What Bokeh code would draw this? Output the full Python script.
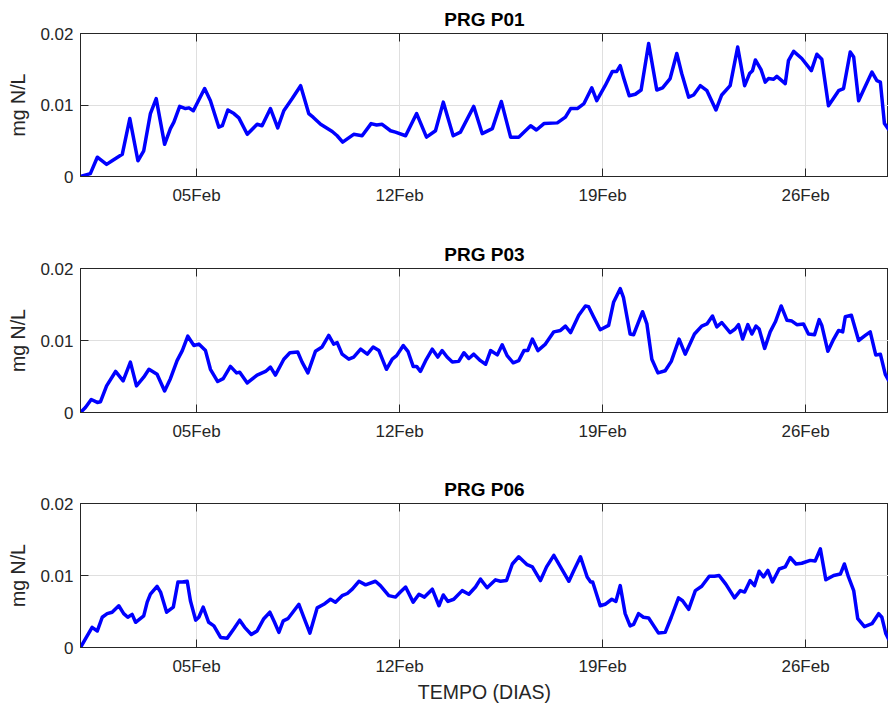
import pandas as pd
from bokeh.plotting import figure
from bokeh.models import FixedTicker, Range1d, LinearAxis
from bokeh.layouts import column
from bokeh.embed import file_html
from bokeh.resources import INLINE

# ---------------- data ----------------
START_DATE = "2019-02-01"
END_DAYS = 27.86  # visible span in days from START_DATE

titles = ["PRG P01", "PRG P03", "PRG P06"]
y_label = "mg N/L"
x_label = "TEMPO (DIAS)"

tick_dates = ["2019-02-05", "2019-02-12", "2019-02-19", "2019-02-26"]
y_ticks = [0, 0.01, 0.02]
y_tick_labels = ["0", "0.01", "0.02"]

days_p01 = [0.00, 0.34, 0.58, 0.90, 1.09, 1.44, 1.70, 1.98, 2.18, 2.41, 2.61, 2.90, 3.10, 3.22, 3.42,
            3.62, 3.74, 3.89, 4.28, 4.48, 4.77, 4.89, 5.08, 5.29, 5.46, 5.75, 6.09, 6.26, 6.55, 6.80,
            7.01, 7.30, 7.59, 7.87, 8.02, 8.28, 8.68, 8.85, 9.04, 9.42, 9.71, 10.02, 10.21, 10.40,
            10.69, 10.86, 11.21, 11.59, 11.93, 12.24, 12.51, 12.85, 13.10, 13.56, 13.85, 14.20, 14.51,
            14.83, 15.11, 15.52, 15.72, 15.98, 16.44, 16.72, 16.90, 17.13, 17.36, 17.63, 17.80, 18.09,
            18.34, 18.49, 18.61, 18.72, 18.92, 19.13, 19.33, 19.59, 19.87, 20.07, 20.33, 20.56, 20.73,
            20.97, 21.14, 21.37, 21.60, 21.91, 22.11, 22.40, 22.66, 22.90, 23.07, 23.17, 23.27, 23.47,
            23.61, 23.72, 23.90, 24.01, 24.30, 24.41, 24.59, 24.87, 25.20, 25.39, 25.56, 25.79, 26.14,
            26.31, 26.54, 26.66, 26.83, 27.00, 27.29, 27.46, 27.58, 27.72, 27.86]
vals_p01 = [0.0000, 0.0004, 0.0027, 0.0017, 0.0022, 0.0031, 0.0081, 0.0022, 0.0036, 0.0088, 0.0109,
            0.0045, 0.0067, 0.0076, 0.0098, 0.0095, 0.0096, 0.0092, 0.0123, 0.0106, 0.0069, 0.0071,
            0.0093, 0.0088, 0.0082, 0.0059, 0.0073, 0.0071, 0.0095, 0.0068, 0.0092, 0.0109, 0.0127,
            0.0088, 0.0083, 0.0073, 0.0063, 0.0057, 0.0048, 0.0059, 0.0057, 0.0074, 0.0072, 0.0073,
            0.0064, 0.0062, 0.0057, 0.0088, 0.0055, 0.0064, 0.0104, 0.0057, 0.0062, 0.0098, 0.0060,
            0.0067, 0.0105, 0.0055, 0.0055, 0.0071, 0.0065, 0.0074, 0.0075, 0.0083, 0.0095, 0.0095,
            0.0102, 0.0124, 0.0106, 0.0127, 0.0147, 0.0147, 0.0155, 0.0139, 0.0113, 0.0115, 0.0121,
            0.0186, 0.0121, 0.0124, 0.0137, 0.0172, 0.0144, 0.0111, 0.0114, 0.0127, 0.0120, 0.0093,
            0.0114, 0.0127, 0.0181, 0.0127, 0.0144, 0.0148, 0.0163, 0.0149, 0.0132, 0.0137, 0.0136,
            0.0140, 0.0130, 0.0162, 0.0175, 0.0165, 0.0148, 0.0171, 0.0164, 0.0099, 0.0120, 0.0123,
            0.0174, 0.0167, 0.0106, 0.0121, 0.0146, 0.0134, 0.0132, 0.0074, 0.0066]

days_p03 = [0.00, 0.17, 0.37, 0.58, 0.69, 0.90, 1.21, 1.47, 1.72, 1.93, 2.18, 2.36, 2.64, 2.90, 3.10,
            3.33, 3.51, 3.70, 3.91, 4.08, 4.31, 4.48, 4.73, 4.92, 5.17, 5.38, 5.49, 5.75, 6.09, 6.38,
            6.55, 6.72, 7.01, 7.22, 7.49, 7.64, 7.84, 8.10, 8.33, 8.56, 8.73, 8.85, 9.02, 9.25, 9.42,
            9.66, 9.89, 10.09, 10.29, 10.55, 10.75, 10.90, 11.13, 11.29, 11.47, 11.59, 11.72, 11.90,
            12.13, 12.32, 12.47, 12.64, 12.82, 13.04, 13.22, 13.39, 13.56, 13.79, 13.97, 14.14, 14.37,
            14.54, 14.71, 14.92, 15.11, 15.29, 15.42, 15.58, 15.77, 16.03, 16.32, 16.55, 16.72, 16.90,
            17.18, 17.41, 17.52, 17.69, 17.92, 18.21, 18.38, 18.61, 18.72, 18.95, 19.07, 19.38, 19.53,
            19.70, 19.91, 20.16, 20.37, 20.64, 20.85, 21.17, 21.42, 21.60, 21.79, 21.94, 22.11, 22.40,
            22.57, 22.69, 22.83, 23.01, 23.15, 23.29, 23.40, 23.59, 23.78, 23.96, 24.16, 24.36, 24.53,
            24.70, 24.93, 25.10, 25.31, 25.47, 25.56, 25.77, 25.97, 26.14, 26.28, 26.37, 26.58, 26.83,
            27.06, 27.23, 27.42, 27.58, 27.75, 27.86]
vals_p03 = [0.0000, 0.0007, 0.0018, 0.0014, 0.0015, 0.0037, 0.0057, 0.0044, 0.0070, 0.0037, 0.0049,
            0.0060, 0.0053, 0.0030, 0.0047, 0.0072, 0.0086, 0.0106, 0.0093, 0.0095, 0.0086, 0.0060,
            0.0043, 0.0047, 0.0064, 0.0055, 0.0056, 0.0041, 0.0052, 0.0057, 0.0063, 0.0052, 0.0074,
            0.0083, 0.0084, 0.0070, 0.0055, 0.0085, 0.0091, 0.0107, 0.0095, 0.0097, 0.0081, 0.0074,
            0.0077, 0.0088, 0.0081, 0.0091, 0.0086, 0.0060, 0.0074, 0.0079, 0.0093, 0.0085, 0.0064,
            0.0064, 0.0057, 0.0072, 0.0088, 0.0077, 0.0086, 0.0077, 0.0070, 0.0071, 0.0083, 0.0075,
            0.0081, 0.0072, 0.0067, 0.0086, 0.0080, 0.0094, 0.0079, 0.0069, 0.0072, 0.0086, 0.0086,
            0.0102, 0.0086, 0.0095, 0.0112, 0.0114, 0.0120, 0.0111, 0.0135, 0.0148, 0.0147, 0.0133,
            0.0115, 0.0121, 0.0153, 0.0172, 0.0160, 0.0109, 0.0108, 0.0140, 0.0123, 0.0074, 0.0055,
            0.0058, 0.0071, 0.0102, 0.0081, 0.0109, 0.0120, 0.0123, 0.0134, 0.0119, 0.0125, 0.0111,
            0.0116, 0.0122, 0.0102, 0.0122, 0.0109, 0.0120, 0.0116, 0.0089, 0.0112, 0.0126, 0.0148,
            0.0128, 0.0127, 0.0122, 0.0123, 0.0109, 0.0108, 0.0129, 0.0121, 0.0085, 0.0102, 0.0114,
            0.0112, 0.0133, 0.0135, 0.0100, 0.0107, 0.0112, 0.0080, 0.0081, 0.0053, 0.0045]

days_p06 = [0.00, 0.17, 0.40, 0.58, 0.75, 0.92, 1.09, 1.32, 1.49, 1.63, 1.78, 1.90, 2.18, 2.30, 2.41,
            2.64, 2.76, 2.97, 3.20, 3.36, 3.51, 3.68, 3.79, 3.97, 4.08, 4.23, 4.42, 4.60, 4.83, 5.06,
            5.29, 5.49, 5.66, 5.89, 6.09, 6.32, 6.53, 6.69, 6.84, 6.99, 7.15, 7.36, 7.53, 7.70, 7.91,
            8.16, 8.39, 8.62, 8.79, 9.02, 9.20, 9.37, 9.60, 9.83, 10.17, 10.34, 10.63, 10.86, 11.03,
            11.21, 11.47, 11.67, 11.86, 12.13, 12.36, 12.51, 12.67, 12.87, 13.16, 13.39, 13.62, 13.79,
            14.02, 14.31, 14.48, 14.69, 14.89, 15.11, 15.40, 15.58, 15.86, 16.07, 16.32, 16.55, 16.84,
            17.01, 17.24, 17.47, 17.59, 17.66, 17.92, 18.09, 18.32, 18.46, 18.61, 18.78, 18.95, 19.07,
            19.24, 19.41, 19.59, 19.93, 20.16, 20.37, 20.62, 20.76, 20.97, 21.20, 21.42, 21.68, 21.86,
            22.02, 22.25, 22.55, 22.75, 22.90, 23.09, 23.24, 23.40, 23.55, 23.70, 23.86, 24.09, 24.30,
            24.47, 24.67, 24.87, 25.16, 25.33, 25.51, 25.70, 25.97, 26.20, 26.34, 26.48, 26.66, 26.80,
            27.03, 27.29, 27.52, 27.63, 27.77, 27.86]
vals_p06 = [0.0000, 0.0012, 0.0028, 0.0023, 0.0042, 0.0047, 0.0049, 0.0058, 0.0047, 0.0042, 0.0046,
            0.0035, 0.0044, 0.0063, 0.0074, 0.0085, 0.0077, 0.0049, 0.0056, 0.0091, 0.0091, 0.0092,
            0.0065, 0.0038, 0.0042, 0.0056, 0.0035, 0.0030, 0.0014, 0.0013, 0.0026, 0.0038, 0.0028,
            0.0018, 0.0023, 0.0040, 0.0049, 0.0035, 0.0021, 0.0037, 0.0040, 0.0051, 0.0060, 0.0042,
            0.0020, 0.0055, 0.0060, 0.0067, 0.0063, 0.0072, 0.0075, 0.0081, 0.0092, 0.0087, 0.0092,
            0.0086, 0.0072, 0.0070, 0.0077, 0.0084, 0.0063, 0.0074, 0.0070, 0.0081, 0.0058, 0.0073,
            0.0064, 0.0067, 0.0079, 0.0074, 0.0084, 0.0095, 0.0083, 0.0094, 0.0092, 0.0093, 0.0116,
            0.0126, 0.0115, 0.0112, 0.0093, 0.0112, 0.0128, 0.0112, 0.0092, 0.0107, 0.0126, 0.0098,
            0.0091, 0.0091, 0.0058, 0.0060, 0.0067, 0.0064, 0.0086, 0.0047, 0.0030, 0.0032, 0.0047,
            0.0042, 0.0041, 0.0020, 0.0021, 0.0042, 0.0069, 0.0065, 0.0053, 0.0079, 0.0085, 0.0099,
            0.0099, 0.0100, 0.0088, 0.0069, 0.0079, 0.0077, 0.0093, 0.0086, 0.0106, 0.0098, 0.0107,
            0.0091, 0.0109, 0.0112, 0.0125, 0.0116, 0.0117, 0.0121, 0.0120, 0.0137, 0.0094, 0.0100,
            0.0102, 0.0116, 0.0098, 0.0079, 0.0040, 0.0029, 0.0033, 0.0047, 0.0042, 0.0019, 0.0012]

series_days = [days_p01, days_p03, days_p06]
series_vals = [vals_p01, vals_p03, vals_p06]

# ---------------- styling ----------------
FONT = "Liberation Sans"
TXT = "#262626"
GRID = "#dfdfdf"
BLUE = "#0000ff"

start = pd.Timestamp(START_DATE)
x_ticks = [float((pd.Timestamp(d) - start).days) for d in tick_dates]
x_labels = {t: pd.Timestamp(d).strftime("%d%b") for t, d in zip(x_ticks, tick_dates)}
y_labels = {t: s for t, s in zip(y_ticks, y_tick_labels)}

borders = [(33, 49), (43, 48), (43, 54)]
frame_heights = [143, 144, 144]

figs = []
for i in range(3):
    top, bottom = borders[i]
    p = figure(frame_width=808, frame_height=frame_heights[i],
               x_range=Range1d(0, END_DAYS), y_range=Range1d(0, 0.02),
               output_backend="svg", toolbar_location=None,
               min_border_left=80, min_border_right=0,
               min_border_top=top, min_border_bottom=bottom,
               background_fill_color="white", border_fill_color="white")
    p.title.text = titles[i]
    p.title.align = "center"
    p.title.text_font = FONT
    p.title.text_font_size = "19px"
    p.title.text_font_style = "bold"
    p.title.text_color = "#000000"
    p.title.standoff = 7

    p.outline_line_color = TXT
    p.outline_line_width = 1

    xt = FixedTicker(ticks=x_ticks)
    yt = FixedTicker(ticks=y_ticks)

    for ax in p.xaxis:
        ax.ticker = xt
        ax.major_label_overrides = x_labels
    for ax in p.yaxis:
        ax.ticker = yt
        ax.major_label_overrides = y_labels

    for ax in list(p.xaxis) + list(p.yaxis):
        ax.axis_line_color = TXT
        ax.major_tick_line_color = TXT
        ax.major_tick_in = 8
        ax.major_tick_out = 0
        ax.minor_tick_line_color = None
        ax.major_label_text_font = FONT
        ax.major_label_text_font_size = "17px"
        ax.major_label_text_color = TXT
        ax.axis_label_text_font = FONT
        ax.axis_label_text_font_size = "19.5px"
        ax.axis_label_text_font_style = "normal"
        ax.axis_label_text_color = TXT

    p.xaxis.major_label_standoff = 9
    p.yaxis.major_label_standoff = 7
    p.yaxis.axis_label = y_label
    p.yaxis.axis_label_standoff = 8
    if i == 2:
        p.xaxis.axis_label = x_label
        p.xaxis.axis_label_standoff = 2

    top_axis = LinearAxis(ticker=xt, major_label_text_font_size="1px",
                          major_label_text_color=None,
                          major_label_standoff=0, major_tick_in=8, major_tick_out=0,
                          minor_tick_line_color=None, axis_line_color=TXT,
                          major_tick_line_color=TXT)
    p.add_layout(top_axis, "above")

    p.xgrid.ticker = xt
    p.ygrid.ticker = yt
    p.xgrid.grid_line_color = GRID
    p.ygrid.grid_line_color = GRID

    p.line(series_days[i], series_vals[i], line_color=BLUE, line_width=3.5,
           line_join="round", line_cap="round")
    figs.append(p)

layout = column(*figs, spacing=0)
open("out.html", "w").write(file_html(layout, INLINE))
